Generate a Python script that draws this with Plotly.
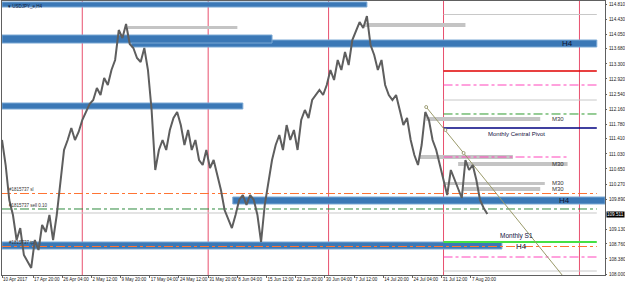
import numpy as np
import plotly.graph_objects as go

# ---------------- data ----------------
bar_index = list(range(0, 536, 4))  # H4 bar numbers of sampled closes
closes = [111.380, 110.749, 109.867, 109.488, 108.858, 109.160, 108.479, 108.303, 108.152, 108.858,
          108.605, 109.236, 109.059, 109.488, 108.858, 109.488, 110.371, 111.128, 111.380, 111.683,
          111.380, 111.582, 111.884, 112.086, 112.288, 112.389, 112.691, 112.515, 112.944, 112.767,
          113.145, 113.398, 114.154, 113.953, 114.306, 113.801, 113.700, 113.448, 113.347, 113.700,
          113.145, 112.137, 110.623, 111.128, 111.380, 111.128, 111.632, 111.935, 112.086, 111.758,
          111.254, 111.632, 111.128, 111.380, 110.875, 110.749, 111.128, 110.674, 110.875, 110.497,
          110.119, 109.614, 109.362, 109.160, 109.488, 109.867, 109.993, 109.740, 109.993, 109.867,
          109.488, 108.807, 109.740, 110.371, 110.875, 111.254, 111.506, 111.128, 111.758, 111.380,
          111.632, 111.128, 111.884, 112.137, 111.935, 112.389, 112.515, 112.641, 112.515, 112.767,
          113.145, 112.893, 113.398, 113.145, 113.599, 113.272, 113.902, 114.154, 114.356, 114.205,
          114.507, 113.776, 113.524, 113.145, 113.398, 112.767, 112.515, 112.389, 112.515, 112.137,
          111.758, 111.935, 111.380, 111.002, 110.749, 111.254, 112.086, 111.884, 111.380, 111.128,
          110.749, 110.371, 109.993, 110.623, 110.371, 110.119, 109.917, 110.875, 110.623, 110.749,
          110.371, 109.867, 109.665, 109.511]

x_tick_bars = [0, 34, 66, 98, 130, 162, 194, 226, 258, 290, 322, 354, 386, 418, 450, 482, 514]
x_tick_text = ["10 Apr 2017", "17 Apr 20:00", "26 Apr 04:00", "2 May 12:00", "9 May 20:00",
               "17 May 04:00", "24 May 12:00", "31 May 20:00", "8 Jun 04:00", "15 Jun 12:00",
               "22 Jun 20:00", "30 Jun 04:00", "7 Jul 12:00", "14 Jul 20:00", "24 Jul 04:00",
               "31 Jul 12:00", "7 Aug 20:00"]
y_tick_vals = [114.810, 114.430, 114.050, 113.680, 113.300, 112.920, 112.540, 112.160, 111.780,
               111.410, 111.030, 110.650, 110.270, 109.890, 109.130, 108.760, 108.380, 108.000]
current_price = 109.511

month_separators = [88, 226, 358, 484, 633]

# blue zones: (bar_from, bar_to, price_low, price_high)
blue_zones = [
    (142, 652, 113.726, 113.902),
    (0, 400, 114.734, 114.861),
    (0, 296, 113.826, 114.028),
    (0, 264, 112.162, 112.313),
    (253, 661, 109.766, 109.942),
    (0, 548, 108.631, 108.807),
]
# gray zones: (bar_from, bar_to, price_low, price_high, label)
gray_zones = [
    (138, 258, 114.180, 114.255, ""),
    (398, 508, 114.230, 114.331, ""),
    (465, 590, 111.859, 111.960, "M30"),
    (458, 560, 110.901, 111.002, ""),
    (500, 620, 110.724, 110.825, "M30"),
    (484, 595, 110.245, 110.321, "M30"),
    (505, 590, 110.094, 110.194, "M30"),
]
# horizontal levels: (bar_from, bar_to, price, color, dash, width)
levels = [
    (484, 652, 114.545, "#c8c8c8", "solid", 1.2),
    (484, 652, 113.120, "#e00000", "solid", 1.4),
    (484, 652, 112.767, "#ff44bb", "dashdot", 1),
    (484, 652, 112.389, "#c8c8c8", "solid", 1),
    (484, 652, 112.036, "#2e9a2e", "dashdot", 1),
    (484, 652, 111.683, "#000080", "solid", 1.6),
    (484, 620, 110.951, "#ff44bb", "dashdot", 1),
    (0, 652, 110.031, "#ff7433", "dashdot", 1.2),
    (0, 652, 109.640, "#2e8b3e", "dashdot", 1),
    (0, 652, 109.539, "#c8c8c8", "solid", 1),
    (484, 652, 108.807, "#44e044", "solid", 2),
    (0, 652, 108.694, "#ff7433", "dashdot", 1.2),
    (484, 652, 108.429, "#ff44bb", "dashdot", 1),
    (484, 652, 108.076, "#c8c8c8", "solid", 1),
]
trend_bars = [465, 486, 506, 614]
trend_prices = [112.212, 111.632, 111.052, 107.975]

order_labels = [(110.031, "#1815737 sl"), (109.640, "#1815737 sell 0.10"), (108.694, "#1815737 tp")]

X_MAX = 661
Y_MIN, Y_MAX = 107.975, 114.886
M30_LABEL_BAR = 609

# ---------------- figure ----------------
fig = go.Figure()
shapes = []
annotations = []

for xb in month_separators:
    shapes.append(dict(type="line", xref="x", yref="y", x0=xb, x1=xb, y0=Y_MIN, y1=Y_MAX,
                       line=dict(color="#e8506e", width=1), layer="below"))

for (a, b, lo, hi, lab) in gray_zones:
    shapes.append(dict(type="rect", xref="x", yref="y", x0=a, x1=b, y0=lo, y1=hi,
                       fillcolor="#c4c4c4", line=dict(width=0), layer="below"))
    if lab:
        annotations.append(dict(x=M30_LABEL_BAR, y=(lo + hi) / 2, xref="x", yref="y", text=lab,
                                showarrow=False, xanchor="center", yanchor="middle",
                                font=dict(size=6, color="#333333", family="Liberation Sans")))

for (a, b, lo, hi) in blue_zones:
    shapes.append(dict(type="rect", xref="x", yref="y", x0=a, x1=b, y0=lo, y1=hi,
                       fillcolor="#3b78b6", line=dict(color="#7aa8d4", width=1), layer="below"))

for (a, b, p, c, d, w) in levels:
    shapes.append(dict(type="line", xref="x", yref="y", x0=a, x1=b, y0=p, y1=p,
                       line=dict(color=c, width=w, dash=d), layer="below"))

# H4 labels
h4 = [(620, (113.726 + 113.902) / 2), (617, (109.766 + 109.942) / 2), (570, (108.631 + 108.807) / 2 - 0.02)]
for (xx, yy) in h4:
    annotations.append(dict(x=xx, y=yy, text="H4", xref="x", yref="y", showarrow=False,
                            xanchor="center", yanchor="middle",
                            font=dict(size=8, color="#101030", family="Liberation Sans")))

annotations.append(dict(x=564, y=111.53, xref="x", yref="y", text="Monthly Central Pivot",
                        showarrow=False, font=dict(size=6, color="#101040", family="Liberation Sans")))
annotations.append(dict(x=564, y=108.96, xref="x", yref="y", text="Monthly S1",
                        showarrow=False, font=dict(size=6.5, color="#101040", family="Liberation Sans")))

for (p, t) in order_labels:
    annotations.append(dict(x=6, y=p, xref="x", yref="y", text=t, showarrow=False,
                            xanchor="left", yanchor="bottom", yshift=-1,
                            font=dict(size=4.5, color="#333333", family="Liberation Sans")))

annotations.append(dict(x=0.006, y=0.995, xref="paper", yref="paper", text="▾ USDJPY_e,H4",
                        showarrow=False, xanchor="left", yanchor="top",
                        font=dict(size=4.5, color="#102040", family="Liberation Sans")))

# current price box
annotations.append(dict(x=1.0, y=current_price, xref="paper", yref="y", text=f"{current_price:.3f}",
                        showarrow=False, xanchor="left", yanchor="middle", xshift=1,
                        bgcolor="#000000", font=dict(size=4.6, color="#ffffff", family="Liberation Sans"),
                        borderpad=0))

# trendline
fig.add_trace(go.Scatter(x=trend_bars, y=trend_prices, mode="lines",
                         line=dict(color="#9a9a6a", width=1), hoverinfo="skip", showlegend=False))
fig.add_trace(go.Scatter(x=trend_bars[:3], y=trend_prices[:3], mode="markers",
                         marker=dict(size=3, color="white", line=dict(color="#8a8a5a", width=0.8)),
                         hoverinfo="skip", showlegend=False))

# price
fig.add_trace(go.Scatter(x=bar_index, y=closes, mode="lines",
                         line=dict(color="#5e5e5e", width=2), showlegend=False))

fig.update_layout(
    width=625, height=286,
    margin=dict(l=2, r=20, t=1, b=11, autoexpand=False),
    paper_bgcolor="white", plot_bgcolor="white",
    shapes=shapes, annotations=annotations,
    showlegend=False,
    xaxis=dict(range=[0, X_MAX], tickvals=x_tick_bars, ticktext=x_tick_text,
               showgrid=False, zeroline=False, showline=True, mirror=True, automargin=False,
               linecolor="#606060", linewidth=1, ticks="outside", ticklen=2, tickcolor="#606060",
               ticklabelposition="outside right", tickangle=0, ticklabelstandoff=0,
               tickfont=dict(size=4.5, color="#202020", family="Liberation Sans")),
    yaxis=dict(range=[Y_MIN, Y_MAX], side="right", tickvals=y_tick_vals,
               ticktext=[f"{v:.3f}" for v in y_tick_vals], automargin=False,
               showgrid=False, zeroline=False, showline=True, mirror=True,
               linecolor="#606060", linewidth=1, ticks="outside", ticklen=1, tickcolor="#606060",
               ticklabelstandoff=1,
               tickfont=dict(size=4.6, color="#202020", family="Liberation Sans")),
)

fig.write_html("out.html")
